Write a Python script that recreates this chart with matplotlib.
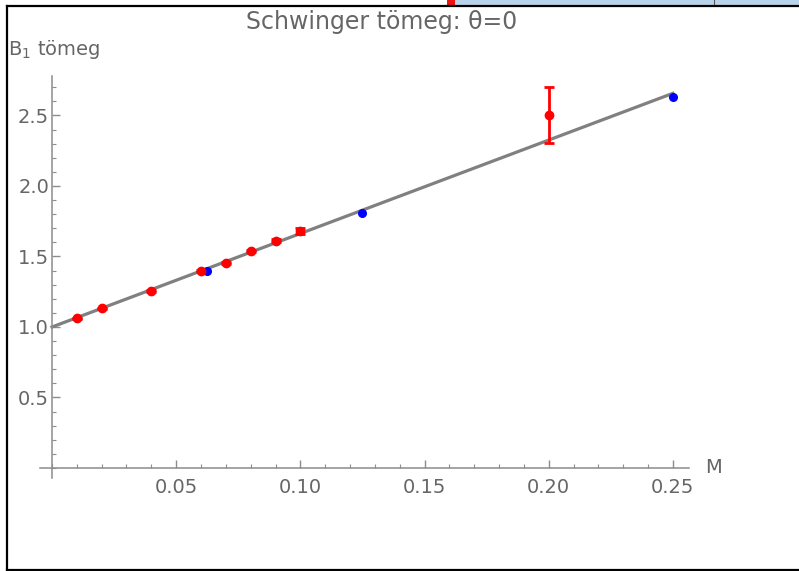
import matplotlib.pyplot as plt
from matplotlib.lines import Line2D
from matplotlib.patches import Rectangle
from matplotlib.ticker import MultipleLocator, FormatStrFormatter

# red data points (with error bars)
red_m = [0.01, 0.02, 0.04, 0.06, 0.07, 0.08, 0.09, 0.10, 0.20]
red_b = [1.062, 1.133, 1.257, 1.399, 1.456, 1.539, 1.612, 1.681, 2.505]
red_err = [0.005, 0.005, 0.006, 0.008, 0.008, 0.010, 0.012, 0.020, 0.200]

# blue data points
blue_m = [0.0625, 0.125, 0.25]
blue_b = [1.399, 1.806, 2.633]

# fitted line
line_m = [0.0, 0.25]
line_b = [1.0, 2.657]

W, H = 799, 571
fig = plt.figure(figsize=(W / 100, H / 100), dpi=100)
ax = fig.add_axes([40 / W, 1 - 478 / H, 649 / W, 402 / H])

txt = '#666666'
axc = '#8c8c8c'

ax.plot(line_m, line_b, color='#808080', lw=2.3, zorder=2)
ax.errorbar(red_m, red_b, yerr=red_err, fmt='o', color='red', ms=6,
            elinewidth=2, capsize=3.6, capthick=2, zorder=3)
ax.plot(blue_m, blue_b, 'o', color='blue', ms=5.5, zorder=3)

ax.set_xlim(-0.00483, 0.2565)
ax.set_ylim(-0.071, 2.78)

for s in ['top', 'right']:
    ax.spines[s].set_visible(False)
ax.spines['left'].set_position(('data', 0))
ax.spines['bottom'].set_position(('data', 0))
for s in ['left', 'bottom']:
    ax.spines[s].set_color(axc)
    ax.spines[s].set_linewidth(1.1)

ax.xaxis.set_major_locator(MultipleLocator(0.05))
ax.xaxis.set_minor_locator(MultipleLocator(0.01))
ax.yaxis.set_major_locator(MultipleLocator(0.5))
ax.yaxis.set_minor_locator(MultipleLocator(0.1))
ax.xaxis.set_major_formatter(FormatStrFormatter('%.2f'))
ax.yaxis.set_major_formatter(FormatStrFormatter('%.1f'))
ax.set_xticks([0.05, 0.10, 0.15, 0.20, 0.25])
ax.set_yticks([0.5, 1.0, 1.5, 2.0, 2.5])

ax.tick_params(which='major', direction='in', length=6, width=1, color=axc,
               labelcolor=txt, labelsize=14)
ax.tick_params(which='minor', direction='in', length=3, width=0.8, color=axc)
ax.tick_params(axis='x', which='major', pad=7)
ax.tick_params(axis='y', which='major', pad=2)

ax.set_xlabel('M', fontsize=14, color=txt, ha='left', va='center')
ax.xaxis.set_label_coords(1.025, 0.071 / 2.851)
ax.set_ylabel('B$_1$ tömeg', fontsize=14, color=txt, rotation=0,
              ha='left', va='center')
ax.yaxis.set_label_coords(-0.049, 1.065)

fig.text(382 / W, 1 - 22 / H, 'Schwinger tömeg: θ=0', fontsize=17,
         color=txt, ha='center', va='center')

# screenshot frame
fig.add_artist(Rectangle((455 / W, 1 - 5 / H), 344 / W, 5 / H,
                         transform=fig.transFigure, color='#b9d4ea', lw=0))
fig.add_artist(Rectangle((447 / W, 1 - 5 / H), 8 / W, 5 / H,
                         transform=fig.transFigure, color='#ee1111', lw=0))
fig.add_artist(Line2D([714 / W, 714 / W], [1 - 5 / H, 1], transform=fig.transFigure,
                      color='#555555', lw=0.8))
fig.add_artist(Line2D([7 / W, 1], [1 - 5.5 / H, 1 - 5.5 / H],
                      transform=fig.transFigure, color='black', lw=1.6))
fig.add_artist(Line2D([7 / W, 7 / W], [1 - 5.5 / H, 1 - 569.5 / H],
                      transform=fig.transFigure, color='black', lw=1.6))
fig.add_artist(Line2D([7 / W, 1], [1 - 569.5 / H, 1 - 569.5 / H],
                      transform=fig.transFigure, color='black', lw=1.6))

fig.savefig('out.png', dpi=100)
